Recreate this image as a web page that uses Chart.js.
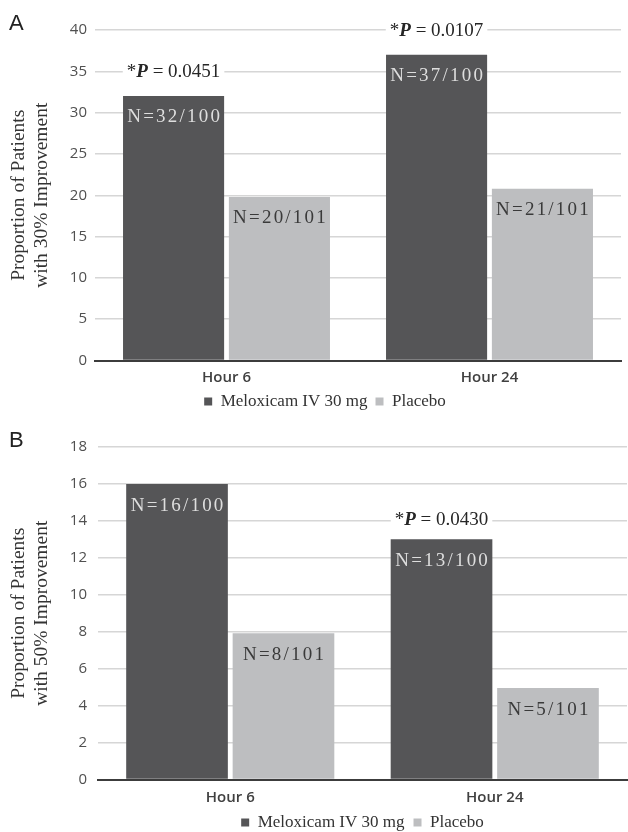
<!DOCTYPE html>
<html>
<head>
<meta charset="utf-8">
<script src="https://cdn.jsdelivr.net/npm/chart.js@4"></script>
<style>
  html, body { margin: 0; padding: 0; background: #fff; overflow: hidden; width: 628px; height: 832px; }
  .panel { position: absolute; left: 0; width: 628px; }
  .tag { position: absolute; left: 9px; font: 22px/22px "Liberation Sans", Arial, sans-serif; color: #222; }
</style>
</head>
<body>
<div class="panel" style="top:0;height:420px"><canvas id="chartA" width="628" height="420"></canvas></div>
<div class="panel" style="top:411px;height:430px"><canvas id="chartB" width="628" height="430"></canvas></div>
<div class="tag" style="top:12px">A</div>
<div class="tag" style="top:429px">B</div>
<script>
// Time points and treatment groups
const categories = ['Hour 6', 'Hour 24'];
const seriesNames = ['Meloxicam IV 30 mg', 'Placebo'];

// Panel A: proportion of patients with 30% improvement (%)
const melox30 = [32, 37];
const placebo30 = [19.8, 20.8];
const melox30Counts = ['N=32/100', 'N=37/100'];
const placebo30Counts = ['N=20/101', 'N=21/101'];
const pValues30 = ['0.0451', '0.0107'];
const yTitle30 = ['Proportion of Patients', 'with 30% Improvement'];
const yMax30 = 40;
const yStep30 = 5;

// Panel B: proportion of patients with 50% improvement (%)
const melox50 = [16, 13];
const placebo50 = [7.92, 4.95];
const melox50Counts = ['N=16/100', 'N=13/100'];
const placebo50Counts = ['N=8/101', 'N=5/101'];
const pValues50 = [null, '0.0430'];
const yTitle50 = ['Proportion of Patients', 'with 50% Improvement'];
const yMax50 = 18;
const yStep50 = 2;

const DARK = '#555557';
const LIGHT = '#bdbec0';
const SERIF = '"Liberation Serif", "Times New Roman", serif';
const SANS = '"Open Sans", "Noto Sans", sans-serif';

// Writes the N=x/y counts inside the bars and the P value above the active bar
function barTextPlugin(counts, pValues, countOffset, pOffset) {
  return {
    id: 'barText',
    afterDatasetsDraw(chart) {
      const ctx = chart.ctx;
      ctx.save();
      ctx.textBaseline = 'middle';
      counts.forEach((list, di) => {
        const meta = chart.getDatasetMeta(di);
        meta.data.forEach((bar, i) => {
          ctx.font = '19px ' + SERIF;
          ctx.letterSpacing = '2.2px';
          ctx.textAlign = 'center';
          ctx.fillStyle = di === 0 ? '#dedede' : '#3a3a3a';
          ctx.fillText(list[i], bar.x + 1.1, bar.y + countOffset);
        });
      });
      ctx.letterSpacing = '0px';
      const meta0 = chart.getDatasetMeta(0);
      pValues.forEach((p, i) => {
        if (!p) return;
        const bar = meta0.data[i];
        const parts = [
          { t: '*', f: '19px ' + SERIF },
          { t: 'P', f: 'italic bold 19px ' + SERIF },
          { t: ' = ' + p, f: '19px ' + SERIF }
        ];
        let total = 0;
        parts.forEach(pt => { ctx.font = pt.f; pt.w = ctx.measureText(pt.t).width; total += pt.w; });
        const cy = bar.y - pOffset;
        let x = bar.x - total / 2;
        ctx.fillStyle = '#ffffff';
        ctx.fillRect(x - 4, cy - 9, total + 8, 18);
        ctx.fillStyle = '#262626';
        ctx.textAlign = 'left';
        parts.forEach(pt => { ctx.font = pt.f; ctx.fillText(pt.t, x, cy + 1); x += pt.w; });
      });
      ctx.restore();
    }
  };
}

function buildChart(id, opts) {
  return new Chart(document.getElementById(id), {
    type: 'bar',
    data: {
      labels: categories,
      datasets: [
        { label: seriesNames[0], data: opts.melox, backgroundColor: DARK, borderWidth: 0,
          barPercentage: 0.955, categoryPercentage: 0.805 },
        { label: seriesNames[1], data: opts.placebo, backgroundColor: LIGHT, borderWidth: 0,
          barPercentage: 0.955, categoryPercentage: 0.805 }
      ]
    },
    options: {
      responsive: false,
      animation: false,
      layout: { padding: opts.padding },
      plugins: {
        tooltip: { enabled: false },
        legend: {
          position: 'bottom',
          fullSize: opts.legendFull,
          labels: {
            boxWidth: 8,
            boxHeight: 8,
            padding: opts.legendPad,
            color: '#333',
            font: { family: SERIF, size: 17 }
          }
        }
      },
      scales: {
        x: {
          grid: { display: false, drawTicks: false },
          border: { display: true, color: '#3c3c3c', width: 2, z: 1 },
          ticks: { color: '#404040', padding: opts.xTickPad, font: { family: SANS, size: 15, weight: '600', lineHeight: 1 } },
          afterFit(scale) { scale.height = opts.xHeight; }
        },
        y: {
          min: 0,
          max: opts.yMax,
          ticks: { stepSize: opts.yStep, padding: opts.yTickPad, color: '#505050', font: { family: SANS, size: 15 } },
          grid: { color: '#d6d6d6', lineWidth: 1.5, drawTicks: false },
          border: { display: false },
          title: {
            display: true,
            text: opts.yTitle,
            color: '#333',
            font: { family: SERIF, size: 19.5, lineHeight: 1.18 },
            padding: { top: opts.titlePad, bottom: 0 }
          },
          afterFit(scale) { scale.width = opts.yWidth; }
        }
      }
    },
    plugins: [barTextPlugin(opts.counts, opts.pValues, opts.countOffset, opts.pOffset)]
  });
}

buildChart('chartA', {
  melox: melox30, placebo: placebo30,
  counts: [melox30Counts, placebo30Counts], pValues: pValues30,
  yTitle: yTitle30, yMax: yMax30, yStep: yStep30,
  padding: { left: 29, right: 7, top: 30, bottom: 0 },
  legendFull: true, legendPad: 8,
  yWidth: 66, yTickPad: 8, titlePad: -21.5,
  xHeight: 24.5, xTickPad: 9.5,
  countOffset: 21, pOffset: 25
});

buildChart('chartB', {
  melox: melox50, placebo: placebo50,
  counts: [melox50Counts, placebo50Counts], pValues: pValues50,
  yTitle: yTitle50, yMax: yMax50, yStep: yStep50,
  padding: { left: 0, right: 1, top: 36, bottom: 0 },
  legendFull: false, legendPad: 9,
  yWidth: 98, yTickPad: 11, titlePad: 7.5,
  xHeight: 25.5, xTickPad: 10.5,
  countOffset: 22, pOffset: 20
});
</script>
</body>
</html>
